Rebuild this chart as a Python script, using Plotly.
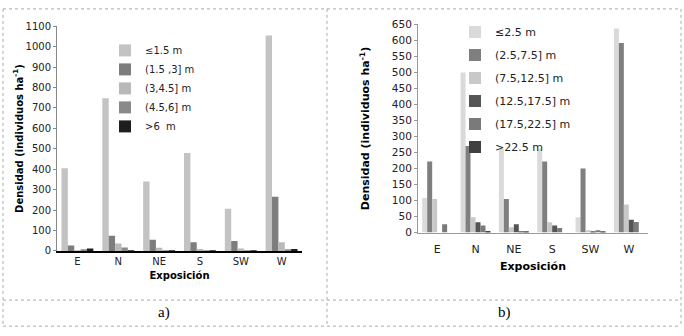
import plotly.graph_objects as go

W, H = 684, 336

# ---------------- data ----------------
categories = ["E", "N", "NE", "S", "SW", "W"]

a_series = ["≤1.5 m", "(1.5 ,3] m", "(3,4.5] m", "(4.5,6] m", ">6  m"]
a_values = [
    [405, 748, 340, 480, 207, 1055],
    [27, 74, 55, 42, 48, 265],
    [3, 36, 15, 10, 12, 42],
    [8, 17, 2, 1, 1, 8],
    [12, 2, 1, 1, 1, 10],
]
a_colors = ["#c3c3c3", "#7d7d7d", "#b9b9b9", "#8a8a8a", "#1e1e1e"]
a_ticks = list(range(0, 1101, 100))

b_series = ["≤2.5 m", "(2.5,7.5] m", "(7.5,12.5] m", "(12.5,17.5] m",
            "(17.5,22.5] m", ">22.5 m"]
b_values = [
    [108, 500, 262, 262, 48, 637],
    [222, 270, 105, 222, 200, 592],
    [105, 48, 17, 32, 7, 88],
    [0, 32, 26, 22, 3, 40],
    [26, 22, 5, 14, 7, 33],
    [0, 5, 3, 0, 3, 0],
]
b_colors = ["#dadada", "#7f7f7f", "#c8c8c8", "#555555", "#7a7a7a", "#404040"]
b_ticks = list(range(0, 651, 50))

# ---------------- figure ----------------
fig = go.Figure()
for name, vals, col in zip(a_series, a_values, a_colors):
    fig.add_trace(go.Bar(x=categories, y=vals, name=name, marker_color=col,
                         marker_line_width=0, xaxis="x", yaxis="y",
                         legend="legend", legendgroup="a" + name))
for name, vals, col in zip(b_series, b_values, b_colors):
    fig.add_trace(go.Bar(x=categories, y=vals, name=name, marker_color=col,
                         marker_line_width=0, xaxis="x2", yaxis="y2",
                         legend="legend2", legendgroup="b" + name))

def px(x):
    return x / W

def py(y):
    return 1 - y / H

tick_font = dict(family="DejaVu Sans", size=10, color="#222")
title_font = dict(family="DejaVu Sans", size=10, color="#000")

fig.update_layout(
    width=W, height=H,
    margin=dict(l=0, r=0, t=0, b=0),
    paper_bgcolor="white", plot_bgcolor="white",
    barmode="group", bargap=0.22, bargroupgap=0,
    showlegend=True,
    xaxis=dict(domain=[px(57), px(302)], anchor="y", showgrid=False,
               showline=True, linecolor="#000", linewidth=2, ticks="",
               tickfont=tick_font, fixedrange=True,
               title=dict(text="<b>Exposición</b>", font=title_font, standoff=6)),
    yaxis=dict(domain=[py(254), py(21)], anchor="x", range=[0, 1100],
               tickvals=a_ticks, showgrid=False, zeroline=False,
               showline=True, linecolor="#888", linewidth=1,
               ticks="outside", ticklen=3, tickcolor="#888",
               tickfont=tick_font,
               title=dict(text="<b>Densidad (individuos ha<sup>-1</sup>)</b>",
                          font=title_font, standoff=0)),
    xaxis2=dict(domain=[px(418), px(648)], anchor="y2", showgrid=False,
                showline=True, linecolor="#999", linewidth=1, ticks="",
                ticklabelstandoff=6,
                tickfont=dict(family="DejaVu Sans", size=11, color="#222"),
                title=dict(text="<b>Exposición</b>",
                           font=dict(family="DejaVu Sans", size=11, color="#000"),
                           standoff=7)),
    yaxis2=dict(domain=[py(235), py(19)], anchor="x2", range=[0, 650],
                tickvals=b_ticks, showgrid=False, zeroline=False,
                showline=True, linecolor="#999", linewidth=1,
                ticks="outside", ticklen=3, tickcolor="#999",
                tickfont=dict(family="DejaVu Sans", size=10.5, color="#222"),
                title=dict(text="<b>Densidad (individuos ha<sup>-1</sup>)</b>",
                           font=dict(family="DejaVu Sans", size=11, color="#000"),
                           standoff=19)),
    legend=dict(x=px(105), y=py(31), xanchor="left", yanchor="top",
                bgcolor="rgba(0,0,0,0)", font=dict(family="DejaVu Sans", size=10, color="#222"),
                tracegroupgap=0, itemwidth=30, traceorder="grouped"),
    legend2=dict(x=px(455), y=py(12), xanchor="left", yanchor="top",
                 bgcolor="rgba(0,0,0,0)", font=dict(family="DejaVu Sans", size=11, color="#222"),
                 tracegroupgap=4, itemwidth=30, traceorder="grouped"),
)

# table frame (dotted cell borders)
frame = dict(type="line", xref="paper", yref="paper",
             line=dict(color="#aaaaaa", width=1, dash="dot"))
for x0, y0, x1, y1 in [(3, 3, 681, 3), (3, 332, 681, 332), (3, 3, 3, 332),
                       (681, 3, 681, 332), (327, 3, 327, 332), (3, 305, 681, 305)]:
    fig.add_shape(**frame, x0=px(x0), x1=px(x1), y0=py(y0), y1=py(y1))

cap_font = dict(family="Liberation Serif", size=15, color="#000")
fig.add_annotation(text="a)", x=px(164), y=py(318), xref="paper", yref="paper",
                   xanchor="center", yanchor="middle",
                   showarrow=False, font=cap_font)
fig.add_annotation(text="b)", x=px(504), y=py(318), xref="paper", yref="paper",
                   xanchor="center", yanchor="middle",
                   showarrow=False, font=cap_font)

fig.write_html("out.html", config={"displayModeBar": False},
               post_script="document.body.style.margin='0';"
                           "document.body.style.overflow='hidden';")
